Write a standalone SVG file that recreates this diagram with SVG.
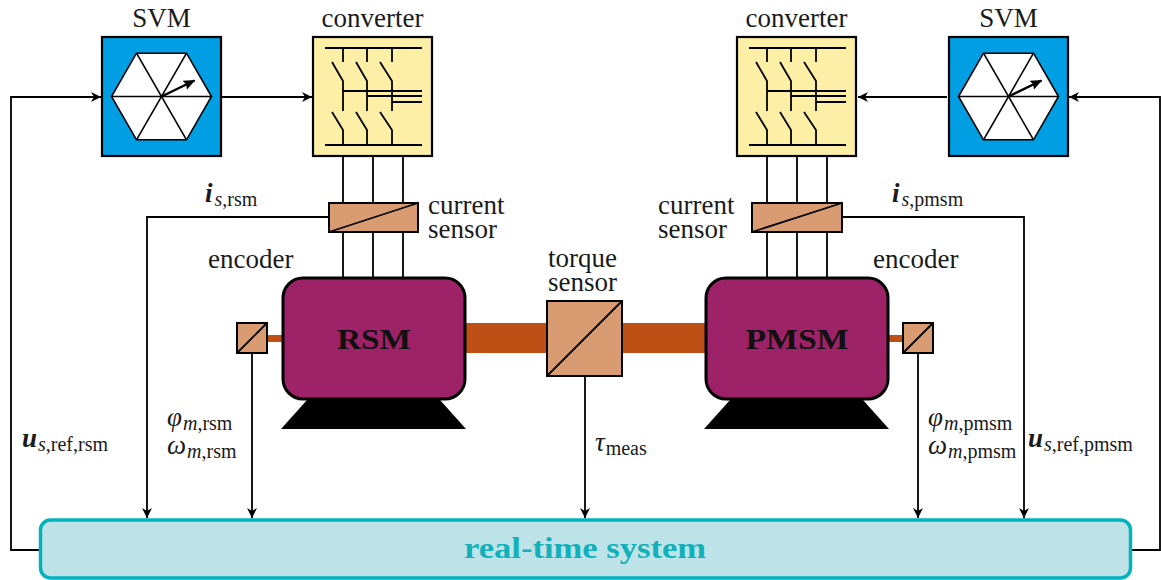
<svg xmlns="http://www.w3.org/2000/svg" width="1161" height="580" viewBox="0 0 1161 580">
  <style>
    .lbl { font-family: "Liberation Serif", "Times New Roman", serif; font-size: 27px; fill: #1a1a1a; }
    .mi { font-style: italic; }
    .bi { font-style: italic; font-weight: bold; }
    .sub { font-size: 20px; }
    .wire { fill: none; stroke: #000; stroke-width: 1.8; }
    .sig { fill: none; stroke: #000; stroke-width: 1.8; marker-end: url(#arr); }
    .svm { fill: #009FE3; stroke: #000; stroke-width: 2.2; }
    .hex { fill: #fff; stroke: #000; stroke-width: 1.6; }
    .conv { fill: #FEEFA6; stroke: #000; stroke-width: 2.2; }
    .sw { fill: none; stroke: #000; stroke-width: 1.8; }
    .sens { fill: #D99B72; stroke: #000; stroke-width: 2; }
    .motor { fill: #9E2268; stroke: #000; stroke-width: 3; }
    .shaft { fill: #BE5016; }
    .mname { font-family: "Liberation Serif", "Times New Roman", serif; font-size: 30px; font-weight: bold; fill: #111; text-anchor: middle; }
  </style>
  <defs>
    <marker id="arr" markerUnits="userSpaceOnUse" markerWidth="12" markerHeight="12" refX="10" refY="5" orient="auto">
      <path d="M0,0 L10,5 L0,10 L3,5 Z" fill="#000"/>
    </marker>
    <marker id="vec" markerUnits="userSpaceOnUse" markerWidth="14" markerHeight="12" refX="11" refY="5" orient="auto">
      <path d="M0,0 L12,5 L0,10 L2,5 Z" fill="#000"/>
    </marker>
    <!-- space vector hexagon, centred on the origin -->
    <g id="hexagon">
      <polygon class="hex" points="50,0 25,-43.3 -25,-43.3 -50,0 -25,43.3 25,43.3"/>
      <line class="hex" x1="-50" y1="0" x2="50" y2="0"/>
      <line class="hex" x1="-25" y1="-43.3" x2="25" y2="43.3"/>
      <line class="hex" x1="25" y1="-43.3" x2="-25" y2="43.3"/>
      <line x1="0" y1="0" x2="33" y2="-16" stroke="#000" stroke-width="2.4" marker-end="url(#vec)"/>
    </g>
    <!-- two-level inverter symbol, origin at box top-left -->
    <g id="bridge">
      <path class="sw" d="M12,11 H109 M12,108 H109
        M30,11 V25 M54,11 V25 M79,11 V25
        M19,25 L30,44 V74 M43,25 L54,44 V74 M67,25 L79,44 V74
        M30,54 H109 M54,59 H109 M79,65 H109
        M19,75 L30,93 V108 M43,75 L54,93 V108 M67,75 L79,93 V108"/>
    </g>
  </defs>

  <!-- connectors -->
  <g id="connectors">
    <!-- three-phase wiring -->
    <path class="wire" d="M343,156 V278 M373,156 V278 M403,156 V278"/>
    <path class="wire" d="M767,156 V278 M797,156 V278 M827,156 V278"/>
    <!-- shafts -->
    <rect class="shaft" x="465" y="323" width="240" height="30"/>
    <rect class="shaft" x="266" y="335" width="18" height="7"/>
    <rect class="shaft" x="887" y="335" width="17" height="7"/>
    <!-- modulator to converter -->
    <line class="sig" x1="222" y1="97" x2="312" y2="97"/>
    <line class="sig" x1="947" y1="97" x2="858" y2="97"/>
    <!-- reference voltages from real-time system -->
    <path class="sig" d="M40,550 H11 V97 H101"/>
    <path class="sig" d="M1130,550 H1160 V97 H1069"/>
    <!-- measured signals -->
    <path class="sig" d="M329,217 H147 V518"/>
    <path class="sig" d="M842,217 H1024 V518"/>
    <path class="sig" d="M252,353 V518"/>
    <path class="sig" d="M918,353 V518"/>
    <path class="sig" d="M585,376 V518"/>
  </g>

  <!-- left drive -->
  <g id="svm-rsm">
    <rect class="svm" x="102" y="37" width="119" height="119"/>
    <use href="#hexagon" x="161.5" y="96.5"/>
    <text class="lbl" x="161.5" y="27" text-anchor="middle">SVM</text>
  </g>
  <g id="converter-rsm">
    <rect class="conv" x="313" y="37" width="119" height="119"/>
    <use href="#bridge" x="313" y="37"/>
    <text class="lbl" x="372.5" y="27" text-anchor="middle">converter</text>
  </g>
  <g id="current-sensor-rsm">
    <rect class="sens" x="329" y="203" width="89" height="29"/>
    <line class="wire" x1="329" y1="232" x2="418" y2="203"/>
    <text class="lbl" x="428" y="214">current<tspan x="428" dy="23.5">sensor</tspan></text>
  </g>
  <g id="rsm">
    <polygon points="307,400 440,400 466,429 281,429" fill="#000"/>
    <rect class="motor" x="283" y="278" width="182" height="121" rx="20"/>
    <text class="mname" x="374" y="349" textLength="74" lengthAdjust="spacingAndGlyphs">RSM</text>
  </g>
  <g id="encoder-rsm">
    <rect class="sens" x="237" y="323" width="30" height="30"/>
    <line class="wire" x1="237" y1="353" x2="267" y2="323"/>
    <text class="lbl" x="208" y="268">encoder</text>
  </g>

  <!-- torque measurement -->
  <g id="torque-sensor">
    <rect class="sens" x="547" y="301" width="75" height="75"/>
    <line class="wire" x1="547" y1="376" x2="622" y2="301"/>
    <text class="lbl" x="548" y="267">torque<tspan x="548" dy="23.5">sensor</tspan></text>
  </g>

  <!-- right drive -->
  <g id="svm-pmsm">
    <rect class="svm" x="949" y="37" width="119" height="119"/>
    <use href="#hexagon" x="1008.5" y="96.5"/>
    <text class="lbl" x="1008.5" y="27" text-anchor="middle">SVM</text>
  </g>
  <g id="converter-pmsm">
    <rect class="conv" x="737" y="37" width="119" height="119"/>
    <use href="#bridge" x="737" y="37"/>
    <text class="lbl" x="796.5" y="27" text-anchor="middle">converter</text>
  </g>
  <g id="current-sensor-pmsm">
    <rect class="sens" x="752" y="203" width="90" height="29"/>
    <line class="wire" x1="752" y1="232" x2="842" y2="203"/>
    <text class="lbl" x="658" y="214">current<tspan x="658" dy="23.5">sensor</tspan></text>
  </g>
  <g id="pmsm">
    <polygon points="730,400 863,400 889,429 704,429" fill="#000"/>
    <rect class="motor" x="706" y="278" width="182" height="121" rx="20"/>
    <text class="mname" x="797" y="349" textLength="103" lengthAdjust="spacingAndGlyphs">PMSM</text>
  </g>
  <g id="encoder-pmsm">
    <rect class="sens" x="903" y="323" width="30" height="30"/>
    <line class="wire" x1="903" y1="353" x2="933" y2="323"/>
    <text class="lbl" x="873" y="268">encoder</text>
  </g>

  <!-- signal labels -->
  <g id="labels">
    <text class="lbl" x="205" y="202"><tspan class="bi">i</tspan><tspan class="sub mi" dy="4" dx="2">s</tspan><tspan class="sub">,rsm</tspan></text>
    <text class="lbl" x="892" y="202"><tspan class="bi">i</tspan><tspan class="sub mi" dy="4" dx="2">s</tspan><tspan class="sub">,pmsm</tspan></text>
    <text class="lbl" x="22" y="447"><tspan class="bi">u</tspan><tspan class="sub mi" dy="4" dx="1">s</tspan><tspan class="sub">,ref,rsm</tspan></text>
    <text class="lbl" x="1028" y="447"><tspan class="bi">u</tspan><tspan class="sub mi" dy="4" dx="1">s</tspan><tspan class="sub">,ref,pmsm</tspan></text>
    <text class="lbl" x="167" y="426"><tspan class="mi">φ</tspan><tspan class="sub mi" dy="4" dx="1">m</tspan><tspan class="sub">,rsm</tspan></text>
    <text class="lbl" x="167" y="454"><tspan class="mi">ω</tspan><tspan class="sub mi" dy="4" dx="1">m</tspan><tspan class="sub">,rsm</tspan></text>
    <text class="lbl" x="928" y="426"><tspan class="mi">φ</tspan><tspan class="sub mi" dy="4" dx="1">m</tspan><tspan class="sub">,pmsm</tspan></text>
    <text class="lbl" x="928" y="454"><tspan class="mi">ω</tspan><tspan class="sub mi" dy="4" dx="1">m</tspan><tspan class="sub">,pmsm</tspan></text>
    <text class="lbl" x="595" y="451"><tspan class="mi">τ</tspan><tspan class="sub" dy="4" dx="1">meas</tspan></text>
  </g>

  <!-- controller -->
  <g id="real-time-system">
    <rect x="40.5" y="520" width="1090" height="58" rx="10" fill="#BDE3E8" stroke="#00B3BD" stroke-width="3.5"/>
    <text x="585" y="558" text-anchor="middle" font-family="Liberation Serif, Times New Roman, serif" font-size="29" font-weight="bold" fill="#12B1BA" textLength="242" lengthAdjust="spacingAndGlyphs">real-time system</text>
  </g>
</svg>
